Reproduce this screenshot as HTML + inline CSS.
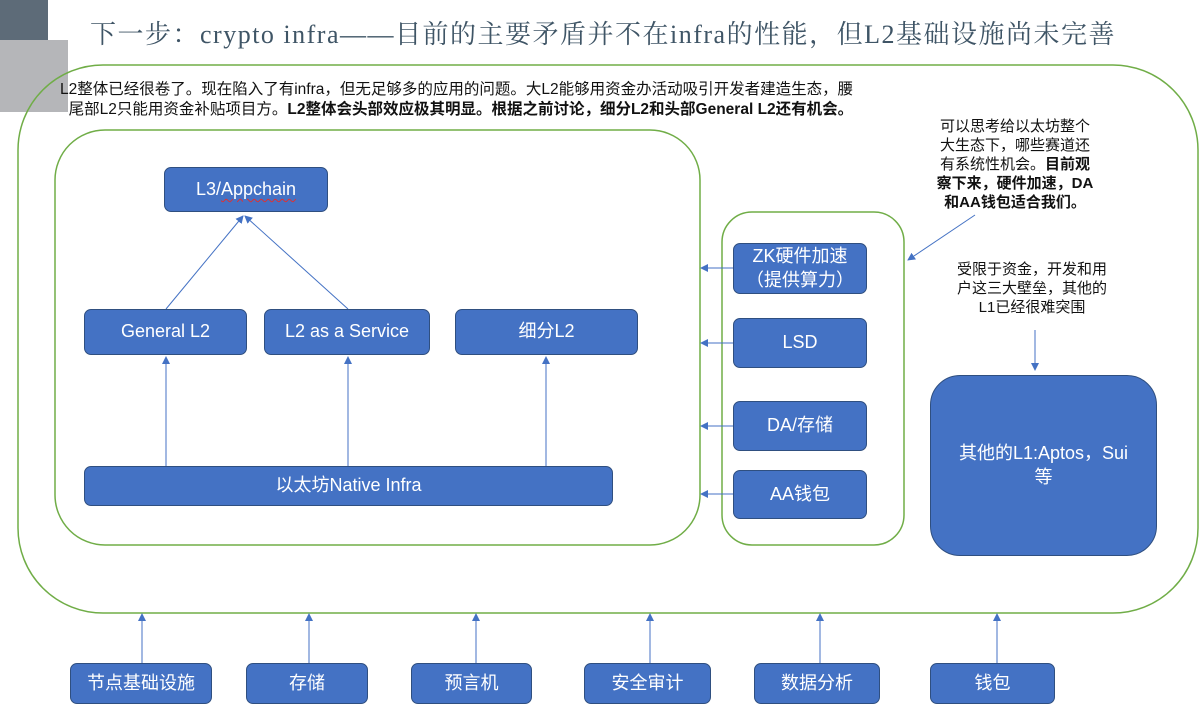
<!DOCTYPE html>
<html><head><meta charset="utf-8"><style>
body{margin:0;width:1200px;height:719px;background:#fff;position:relative;overflow:hidden;font-family:"Liberation Sans","Noto Sans CJK SC",sans-serif}
.b{position:absolute;background:#4472C4;border:1.5px solid #2F4F80;border-radius:7px;color:#fff;display:flex;align-items:center;justify-content:center;text-align:center;font-size:18px;box-sizing:border-box;line-height:1.3}
.t{position:absolute;color:#111;font-size:14px;line-height:18px}
</style></head><body>
<div style="position:absolute;left:0;top:0;width:48px;height:40px;background:#5d6b78"></div>
<div style="position:absolute;left:0;top:40px;width:68px;height:72px;background:#b5b6b9"></div>
<div style="position:absolute;left:90px;top:14px;font-family:'Liberation Serif','Noto Serif CJK SC',serif;font-size:26px;color:#3f5566;letter-spacing:1.5px;white-space:nowrap">下一步：crypto infra——目前的主要矛盾并不在infra的性能，但L2基础设施尚未完善</div>
<svg width="1200" height="719" style="position:absolute;left:0;top:0">
<defs><marker id="a" markerWidth="8" markerHeight="8" refX="7" refY="4" orient="auto" markerUnits="userSpaceOnUse"><path d="M0,0 L8,4 L0,8 z" fill="#4472C4"/></marker></defs>
<rect x="18" y="65" width="1180" height="548" rx="85" fill="none" stroke="#70AD47" stroke-width="1.5"/>
<rect x="55" y="130" width="645" height="415" rx="50" fill="none" stroke="#70AD47" stroke-width="1.5"/>
<rect x="722" y="212" width="182" height="333" rx="30" fill="none" stroke="#70AD47" stroke-width="1.5"/>
<g stroke="#4472C4" stroke-width="1" fill="none" marker-end="url(#a)">
<line x1="166" y1="309" x2="243" y2="216"/>
<line x1="348" y1="309" x2="245" y2="216"/>
<line x1="166" y1="466" x2="166" y2="357"/>
<line x1="348" y1="466" x2="348" y2="357"/>
<line x1="546" y1="466" x2="546" y2="357"/>
<line x1="733" y1="268" x2="701" y2="268"/>
<line x1="733" y1="343" x2="701" y2="343"/>
<line x1="733" y1="426" x2="701" y2="426"/>
<line x1="733" y1="494" x2="701" y2="494"/>
<line x1="975" y1="215" x2="908" y2="260"/>
<line x1="1035" y1="330" x2="1035" y2="370"/>
<line x1="142" y1="663" x2="142" y2="614"/>
<line x1="309" y1="663" x2="309" y2="614"/>
<line x1="476" y1="663" x2="476" y2="614"/>
<line x1="650" y1="663" x2="650" y2="614"/>
<line x1="820" y1="663" x2="820" y2="614"/>
<line x1="997" y1="663" x2="997" y2="614"/>
</g></svg>
<div class="t" style="left:60px;top:80px;width:850px;font-size:15.5px;line-height:20px;white-space:nowrap">L2整体已经很卷了。现在陷入了有infra，但无足够多的应用的问题。大L2能够用资金办活动吸引开发者建造生态，腰<br>&nbsp;&nbsp;尾部L2只能用资金补贴项目方。<b>L2整体会头部效应极其明显。根据之前讨论，细分L2和头部General L2还有机会。</b></div>
<div class="t" style="left:920px;top:117px;width:190px;text-align:center;font-size:15px;line-height:19px;white-space:nowrap">可以思考给以太坊整个<br>大生态下，哪些赛道还<br>有系统性机会。<b>目前观<br>察下来，硬件加速，DA<br>和AA钱包适合我们。</b></div>
<div class="t" style="left:940px;top:260px;width:184px;text-align:center;font-size:15px;line-height:19px;white-space:nowrap">受限于资金，开发和用<br>户这三大壁垒，其他的<br>L1已经很难突围</div>
<div class="b" style="left:164px;top:167px;width:164px;height:45px">L3/<span style="text-decoration:underline wavy #e03030;text-underline-offset:3px;text-decoration-thickness:1px">Appchain</span></div>
<div class="b" style="left:84px;top:309px;width:163px;height:46px">General L2</div>
<div class="b" style="left:264px;top:309px;width:166px;height:46px">L2 as a Service</div>
<div class="b" style="left:455px;top:309px;width:183px;height:46px">细分L2</div>
<div class="b" style="left:84px;top:466px;width:529px;height:40px">以太坊Native Infra</div>
<div class="b" style="left:733px;top:243px;width:134px;height:51px">ZK硬件加速<br>（提供算力）</div>
<div class="b" style="left:733px;top:318px;width:134px;height:50px">LSD</div>
<div class="b" style="left:733px;top:401px;width:134px;height:50px">DA/存储</div>
<div class="b" style="left:733px;top:470px;width:134px;height:49px">AA钱包</div>
<div class="b" style="left:930px;top:375px;width:227px;height:181px;border-radius:30px">其他的L1:Aptos，Sui<br>等</div>
<div class="b" style="left:70px;top:663px;width:142px;height:41px">节点基础设施</div>
<div class="b" style="left:246px;top:663px;width:122px;height:41px">存储</div>
<div class="b" style="left:411px;top:663px;width:121px;height:41px">预言机</div>
<div class="b" style="left:584px;top:663px;width:127px;height:41px">安全审计</div>
<div class="b" style="left:754px;top:663px;width:126px;height:41px">数据分析</div>
<div class="b" style="left:930px;top:663px;width:125px;height:41px">钱包</div>
</body></html>
